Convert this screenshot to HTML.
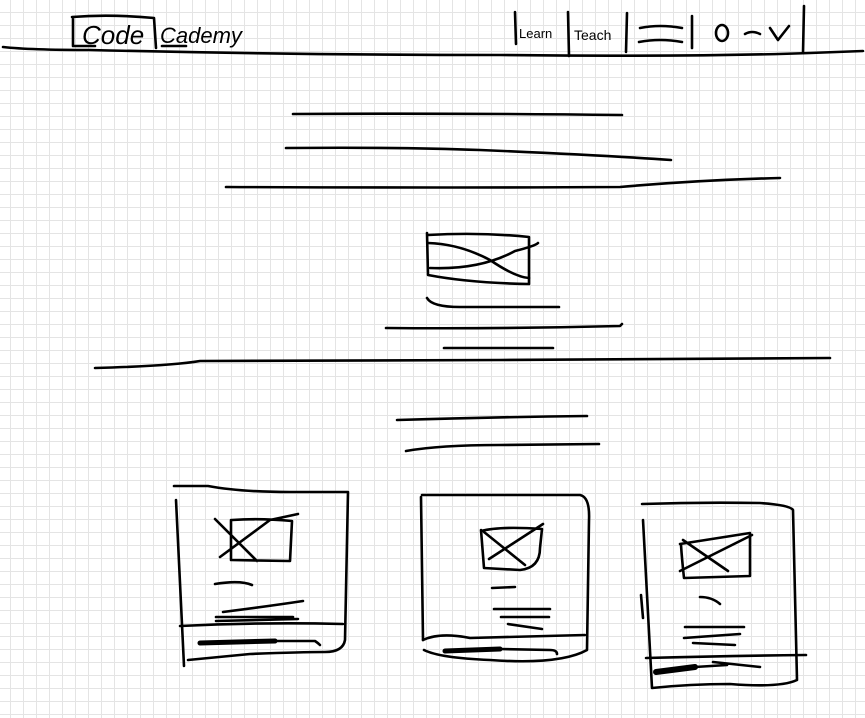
<!DOCTYPE html>
<html><head><meta charset="utf-8"><style>
html,body{margin:0;padding:0;background:#fff}
body{width:865px;height:718px;overflow:hidden;
background-image:linear-gradient(to right,#e4e4e4 1px,transparent 1px),linear-gradient(to bottom,#e4e4e4 1px,transparent 1px);
background-size:13px 13px;background-position:10px 12px}
svg{position:absolute;left:0;top:0}
text{font-family:"Liberation Sans",sans-serif;fill:#000}
</style></head><body>
<svg width="865" height="718" viewBox="0 0 865 718" fill="none" stroke="#000" stroke-width="2.6" stroke-linecap="round" stroke-linejoin="round">
<path d="M3 47 Q30 50 90 50 Q300 55 500 55 Q700 57 810 53 L863 51"/>
<path d="M72 17 Q110 14 154 18 M73 17 L73 46 L95 46 M154 18 L156 48"/>
<text x="82" y="44" font-size="26" stroke="none" font-style="italic">Code</text>
<text x="160" y="43" font-size="22" stroke="none" font-style="italic">Cademy</text>
<path d="M162 46 L186 46"/>
<path d="M515 12 L516 44 M568 12 L569 56 M627 13 L626 52 M692 16 L692 48 M804 6 L803 53"/>
<text x="519" y="38" font-size="13" stroke="none">Learn</text>
<text x="574" y="40" font-size="14" stroke="none">Teach</text>
<path d="M640 28 Q660 24 682 28 M639 42 Q660 38 682 42"/>
<ellipse cx="722" cy="33" rx="6" ry="8"/>
<path d="M745 34 Q752 30 760 34 M770 28 L778 40 L789 26"/>
<path d="M293 114 Q450 113 622 115"/>
<path d="M286 148 Q400 147 480 150 Q600 155 671 160"/>
<path d="M226 187 Q450 188 620 187 Q700 180 780 178"/>
<path d="M427 233 L428 275 Q470 283 529 284 L529 237 Q480 232 428 235"/>
<path d="M428 243 Q460 244 490 260 Q515 277 529 278 M430 268 Q480 270 515 251 Q535 246 538 243"/>
<path d="M427 298 Q432 307 460 307 L559 307"/>
<path d="M386 328 Q500 329 620 326 L622 324"/>
<path d="M444 348 L553 348"/>
<path d="M95 368 Q170 366 200 361 L500 360 L830 358"/>
<path d="M397 420 Q500 417 587 416"/>
<path d="M406 451 Q440 445 499 445 L599 444"/>
<!-- card 1 -->
<path d="M174 486 L208 486 Q240 492 290 492 L348 492 L345 640 Q343 652 325 652 Q300 652 250 654 Q210 658 188 660 M176 500 L184 666"/>
<path d="M180 626 Q260 622 343 624"/>
<path d="M231 520 L231 560 L290 561 L292 521 Q260 518 232 520 M215 519 L257 561 M220 557 L270 520 L298 514"/>
<path d="M215 584 Q240 580 252 585 M223 612 Q270 606 303 601 M216 617 L293 617 M216 621 L298 619"/>
<path d="M200 643 L275 641" stroke-width="5"/>
<path d="M275 641 L315 641 Q318 643 320 645"/>
<!-- card 2 -->
<path d="M422 495 L580 495 Q590 497 589 520 L587 650 Q560 665 490 660 Q440 658 424 650 M421 497 L423 640"/>
<path d="M423 640 Q440 632 470 638 L585 635"/>
<path d="M481 530 L484 568 L520 570 Q540 568 540 548 L542 529 Q500 526 481 531 M484 532 L525 565 M489 559 L543 524"/>
<path d="M492 588 L515 587 M494 609 L550 609 M501 617 L549 617 M508 624 L542 629"/>
<path d="M445 651 L500 649" stroke-width="5"/>
<path d="M500 649 L550 650 Q557 650 557 654"/>
<!-- card 3 -->
<path d="M642 504 Q700 502 760 503 Q790 505 793 510 L797 680 Q780 688 730 684 Q690 684 652 688 L643 520 M641 595 L643 618"/>
<path d="M646 658 Q720 656 806 655"/>
<path d="M680 544 Q700 541 750 533 L750 576 L684 578 Q682 560 681 545 M683 540 L728 571 M680 571 L752 535"/>
<path d="M700 597 Q712 597 720 604 M685 627 L744 627 M684 638 L740 634 M693 643 L735 645"/>
<path d="M656 672 L695 667" stroke-width="6"/>
<path d="M695 667 L727 665 M713 662 L760 667"/>
</svg>
</body></html>
